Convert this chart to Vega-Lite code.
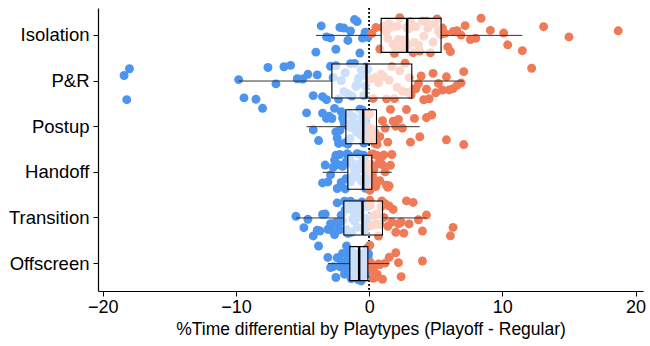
{
  "$schema": "https://vega.github.io/schema/vega-lite/v6.json",
  "width": 545,
  "height": 283,
  "autosize": {"type": "none"},
  "padding": {"left": 98, "top": 8, "right": 7, "bottom": 55},
  "background": "white",
  "config": {
    "view": {"stroke": null},
    "font": "Liberation Sans",
    "axis": {"grid": false, "domainColor": "black", "tickColor": "black", "labelColor": "black", "titleColor": "black", "labelFont": "Liberation Sans", "titleFont": "Liberation Sans", "titleFontWeight": "normal"}
  },
  "datasets": {
    "pts": [
      {"p":"Isolation","v":-4.0},{"p":"Isolation","v":-3.6},{"p":"Isolation","v":-3.2},{"p":"Isolation","v":-2.9},{"p":"Isolation","v":-2.5},{"p":"Isolation","v":-2.2},{"p":"Isolation","v":-1.9},{"p":"Isolation","v":-1.6},{"p":"Isolation","v":-1.4},{"p":"Isolation","v":-1.1},{"p":"Isolation","v":-0.9},{"p":"Isolation","v":-0.7},{"p":"Isolation","v":-0.5},{"p":"Isolation","v":-0.3},{"p":"Isolation","v":-0.1},{"p":"Isolation","v":0.2},{"p":"Isolation","v":0.5},{"p":"Isolation","v":0.8},
      {"p":"Isolation","v":1.0},{"p":"Isolation","v":1.1},{"p":"Isolation","v":1.3},{"p":"Isolation","v":1.4},{"p":"Isolation","v":1.5},{"p":"Isolation","v":1.7},{"p":"Isolation","v":1.8},{"p":"Isolation","v":1.9},{"p":"Isolation","v":2.0},{"p":"Isolation","v":2.1},{"p":"Isolation","v":2.2},{"p":"Isolation","v":2.3},{"p":"Isolation","v":2.4},{"p":"Isolation","v":2.5},{"p":"Isolation","v":2.6},{"p":"Isolation","v":2.7},{"p":"Isolation","v":2.75},{"p":"Isolation","v":2.8},
      {"p":"Isolation","v":2.9},{"p":"Isolation","v":3.0},{"p":"Isolation","v":3.1},{"p":"Isolation","v":3.3},{"p":"Isolation","v":3.4},{"p":"Isolation","v":3.5},{"p":"Isolation","v":3.7},{"p":"Isolation","v":3.8},{"p":"Isolation","v":4.0},{"p":"Isolation","v":4.1},{"p":"Isolation","v":4.3},{"p":"Isolation","v":4.4},{"p":"Isolation","v":4.6},{"p":"Isolation","v":4.8},{"p":"Isolation","v":4.9},{"p":"Isolation","v":5.1},{"p":"Isolation","v":5.2},{"p":"Isolation","v":5.35},
      {"p":"Isolation","v":5.5},{"p":"Isolation","v":5.7},{"p":"Isolation","v":5.9},{"p":"Isolation","v":6.1},{"p":"Isolation","v":6.3},{"p":"Isolation","v":6.6},{"p":"Isolation","v":6.9},{"p":"Isolation","v":7.2},{"p":"Isolation","v":7.6},{"p":"Isolation","v":8.0},{"p":"Isolation","v":8.4},{"p":"Isolation","v":9.1},{"p":"Isolation","v":10.1},{"p":"Isolation","v":10.4},{"p":"Isolation","v":11.5},{"p":"Isolation","v":13.1},{"p":"Isolation","v":15.0},{"p":"Isolation","v":18.7},

      {"p":"P&R","v":-18.4},{"p":"P&R","v":-18.2},{"p":"P&R","v":-18.0},{"p":"P&R","v":-9.8},{"p":"P&R","v":-9.4},{"p":"P&R","v":-8.5},{"p":"P&R","v":-7.6},{"p":"P&R","v":-7.0},{"p":"P&R","v":-6.4},{"p":"P&R","v":-5.9},{"p":"P&R","v":-5.4},{"p":"P&R","v":-5.0},{"p":"P&R","v":-4.6},{"p":"P&R","v":-4.2},{"p":"P&R","v":-3.9},{"p":"P&R","v":-3.5},{"p":"P&R","v":-3.2},{"p":"P&R","v":-2.9},
      {"p":"P&R","v":-2.7},{"p":"P&R","v":-2.5},{"p":"P&R","v":-2.3},{"p":"P&R","v":-2.1},{"p":"P&R","v":-1.9},{"p":"P&R","v":-1.8},{"p":"P&R","v":-1.6},{"p":"P&R","v":-1.4},{"p":"P&R","v":-1.3},{"p":"P&R","v":-1.1},{"p":"P&R","v":-1.0},{"p":"P&R","v":-0.9},{"p":"P&R","v":-0.8},{"p":"P&R","v":-0.6},{"p":"P&R","v":-0.5},{"p":"P&R","v":-0.4},{"p":"P&R","v":-0.3},{"p":"P&R","v":-0.25},
      {"p":"P&R","v":-0.1},{"p":"P&R","v":0.1},{"p":"P&R","v":0.3},{"p":"P&R","v":0.5},{"p":"P&R","v":0.7},{"p":"P&R","v":0.9},{"p":"P&R","v":1.1},{"p":"P&R","v":1.3},{"p":"P&R","v":1.5},{"p":"P&R","v":1.7},{"p":"P&R","v":1.9},{"p":"P&R","v":2.1},{"p":"P&R","v":2.3},{"p":"P&R","v":2.5},{"p":"P&R","v":2.7},{"p":"P&R","v":2.9},{"p":"P&R","v":3.0},{"p":"P&R","v":3.15},
      {"p":"P&R","v":3.3},{"p":"P&R","v":3.5},{"p":"P&R","v":3.7},{"p":"P&R","v":3.9},{"p":"P&R","v":4.1},{"p":"P&R","v":4.3},{"p":"P&R","v":4.5},{"p":"P&R","v":4.8},{"p":"P&R","v":5.0},{"p":"P&R","v":5.2},{"p":"P&R","v":5.5},{"p":"P&R","v":5.8},{"p":"P&R","v":6.0},{"p":"P&R","v":6.3},{"p":"P&R","v":6.6},{"p":"P&R","v":6.9},{"p":"P&R","v":7.1},{"p":"P&R","v":12.2},

      {"p":"Postup","v":-8.0},{"p":"Postup","v":-4.7},{"p":"Postup","v":-4.2},{"p":"Postup","v":-3.8},{"p":"Postup","v":-3.5},{"p":"Postup","v":-3.2},{"p":"Postup","v":-3.0},{"p":"Postup","v":-2.8},{"p":"Postup","v":-2.6},{"p":"Postup","v":-2.5},{"p":"Postup","v":-2.4},{"p":"Postup","v":-2.3},{"p":"Postup","v":-2.2},{"p":"Postup","v":-2.1},{"p":"Postup","v":-2.0},{"p":"Postup","v":-1.9},{"p":"Postup","v":-1.85},{"p":"Postup","v":-1.8},
      {"p":"Postup","v":-1.7},{"p":"Postup","v":-1.65},{"p":"Postup","v":-1.6},{"p":"Postup","v":-1.5},{"p":"Postup","v":-1.45},{"p":"Postup","v":-1.4},{"p":"Postup","v":-1.3},{"p":"Postup","v":-1.2},{"p":"Postup","v":-1.1},{"p":"Postup","v":-1.0},{"p":"Postup","v":-0.95},{"p":"Postup","v":-0.9},{"p":"Postup","v":-0.8},{"p":"Postup","v":-0.7},{"p":"Postup","v":-0.65},{"p":"Postup","v":-0.6},{"p":"Postup","v":-0.55},{"p":"Postup","v":-0.5},
      {"p":"Postup","v":-0.4},{"p":"Postup","v":-0.35},{"p":"Postup","v":-0.3},{"p":"Postup","v":-0.25},{"p":"Postup","v":-0.2},{"p":"Postup","v":-0.15},{"p":"Postup","v":-0.1},{"p":"Postup","v":-0.05},{"p":"Postup","v":0.02},{"p":"Postup","v":0.05},{"p":"Postup","v":0.1},{"p":"Postup","v":0.15},{"p":"Postup","v":0.2},{"p":"Postup","v":0.25},{"p":"Postup","v":0.3},{"p":"Postup","v":0.4},{"p":"Postup","v":0.45},{"p":"Postup","v":0.5},
      {"p":"Postup","v":0.6},{"p":"Postup","v":0.8},{"p":"Postup","v":1.0},{"p":"Postup","v":1.2},{"p":"Postup","v":1.4},{"p":"Postup","v":1.6},{"p":"Postup","v":1.8},{"p":"Postup","v":2.0},{"p":"Postup","v":2.2},{"p":"Postup","v":2.5},{"p":"Postup","v":2.8},{"p":"Postup","v":3.1},{"p":"Postup","v":3.4},{"p":"Postup","v":3.8},{"p":"Postup","v":4.3},{"p":"Postup","v":4.7},{"p":"Postup","v":5.8},{"p":"Postup","v":7.1},

      {"p":"Handoff","v":-3.5},{"p":"Handoff","v":-3.3},{"p":"Handoff","v":-3.1},{"p":"Handoff","v":-2.9},{"p":"Handoff","v":-2.7},{"p":"Handoff","v":-2.6},{"p":"Handoff","v":-2.5},{"p":"Handoff","v":-2.4},{"p":"Handoff","v":-2.3},{"p":"Handoff","v":-2.2},{"p":"Handoff","v":-2.1},{"p":"Handoff","v":-2.0},{"p":"Handoff","v":-1.95},{"p":"Handoff","v":-1.9},{"p":"Handoff","v":-1.8},{"p":"Handoff","v":-1.75},{"p":"Handoff","v":-1.7},{"p":"Handoff","v":-1.65},
      {"p":"Handoff","v":-1.55},{"p":"Handoff","v":-1.5},{"p":"Handoff","v":-1.45},{"p":"Handoff","v":-1.4},{"p":"Handoff","v":-1.3},{"p":"Handoff","v":-1.25},{"p":"Handoff","v":-1.2},{"p":"Handoff","v":-1.1},{"p":"Handoff","v":-1.05},{"p":"Handoff","v":-1.0},{"p":"Handoff","v":-0.9},{"p":"Handoff","v":-0.85},{"p":"Handoff","v":-0.8},{"p":"Handoff","v":-0.7},{"p":"Handoff","v":-0.65},{"p":"Handoff","v":-0.6},{"p":"Handoff","v":-0.55},{"p":"Handoff","v":-0.5},
      {"p":"Handoff","v":-0.42},{"p":"Handoff","v":-0.4},{"p":"Handoff","v":-0.38},{"p":"Handoff","v":-0.35},{"p":"Handoff","v":-0.3},{"p":"Handoff","v":-0.28},{"p":"Handoff","v":-0.25},{"p":"Handoff","v":-0.2},{"p":"Handoff","v":-0.18},{"p":"Handoff","v":-0.15},{"p":"Handoff","v":-0.1},{"p":"Handoff","v":-0.08},{"p":"Handoff","v":-0.05},{"p":"Handoff","v":0.02},{"p":"Handoff","v":0.05},{"p":"Handoff","v":0.1},{"p":"Handoff","v":0.15},{"p":"Handoff","v":0.18},
      {"p":"Handoff","v":0.25},{"p":"Handoff","v":0.3},{"p":"Handoff","v":0.35},{"p":"Handoff","v":0.4},{"p":"Handoff","v":0.45},{"p":"Handoff","v":0.5},{"p":"Handoff","v":0.6},{"p":"Handoff","v":0.7},{"p":"Handoff","v":0.8},{"p":"Handoff","v":0.9},{"p":"Handoff","v":1.0},{"p":"Handoff","v":1.1},{"p":"Handoff","v":1.2},{"p":"Handoff","v":1.3},{"p":"Handoff","v":1.4},{"p":"Handoff","v":1.5},{"p":"Handoff","v":1.6},{"p":"Handoff","v":1.7},

      {"p":"Transition","v":-5.5},{"p":"Transition","v":-4.9},{"p":"Transition","v":-4.6},{"p":"Transition","v":-4.2},{"p":"Transition","v":-3.9},{"p":"Transition","v":-3.7},{"p":"Transition","v":-3.5},{"p":"Transition","v":-3.3},{"p":"Transition","v":-3.1},{"p":"Transition","v":-2.9},{"p":"Transition","v":-2.8},{"p":"Transition","v":-2.6},{"p":"Transition","v":-2.5},{"p":"Transition","v":-2.4},{"p":"Transition","v":-2.3},{"p":"Transition","v":-2.2},{"p":"Transition","v":-2.1},{"p":"Transition","v":-2.0},
      {"p":"Transition","v":-1.85},{"p":"Transition","v":-1.8},{"p":"Transition","v":-1.7},{"p":"Transition","v":-1.6},{"p":"Transition","v":-1.55},{"p":"Transition","v":-1.5},{"p":"Transition","v":-1.4},{"p":"Transition","v":-1.3},{"p":"Transition","v":-1.25},{"p":"Transition","v":-1.2},{"p":"Transition","v":-1.1},{"p":"Transition","v":-1.0},{"p":"Transition","v":-0.95},{"p":"Transition","v":-0.9},{"p":"Transition","v":-0.8},{"p":"Transition","v":-0.7},{"p":"Transition","v":-0.65},{"p":"Transition","v":-0.55},
      {"p":"Transition","v":-0.45},{"p":"Transition","v":-0.4},{"p":"Transition","v":-0.35},{"p":"Transition","v":-0.3},{"p":"Transition","v":-0.2},{"p":"Transition","v":-0.15},{"p":"Transition","v":-0.1},{"p":"Transition","v":0.05},{"p":"Transition","v":0.1},{"p":"Transition","v":0.2},{"p":"Transition","v":0.3},{"p":"Transition","v":0.4},{"p":"Transition","v":0.5},{"p":"Transition","v":0.6},{"p":"Transition","v":0.7},{"p":"Transition","v":0.8},{"p":"Transition","v":0.9},{"p":"Transition","v":0.95},
      {"p":"Transition","v":1.1},{"p":"Transition","v":1.2},{"p":"Transition","v":1.4},{"p":"Transition","v":1.5},{"p":"Transition","v":1.7},{"p":"Transition","v":1.8},{"p":"Transition","v":2.0},{"p":"Transition","v":2.2},{"p":"Transition","v":2.4},{"p":"Transition","v":2.6},{"p":"Transition","v":2.8},{"p":"Transition","v":3.0},{"p":"Transition","v":3.3},{"p":"Transition","v":3.7},{"p":"Transition","v":4.0},{"p":"Transition","v":4.3},{"p":"Transition","v":6.1},{"p":"Transition","v":6.3},

      {"p":"Offscreen","v":-3.8},{"p":"Offscreen","v":-3.1},{"p":"Offscreen","v":-2.9},{"p":"Offscreen","v":-2.7},{"p":"Offscreen","v":-2.5},{"p":"Offscreen","v":-2.4},{"p":"Offscreen","v":-2.3},{"p":"Offscreen","v":-2.2},{"p":"Offscreen","v":-2.1},{"p":"Offscreen","v":-2.0},{"p":"Offscreen","v":-1.9},{"p":"Offscreen","v":-1.85},{"p":"Offscreen","v":-1.8},{"p":"Offscreen","v":-1.7},{"p":"Offscreen","v":-1.65},{"p":"Offscreen","v":-1.6},{"p":"Offscreen","v":-1.55},{"p":"Offscreen","v":-1.5},
      {"p":"Offscreen","v":-1.42},{"p":"Offscreen","v":-1.4},{"p":"Offscreen","v":-1.35},{"p":"Offscreen","v":-1.3},{"p":"Offscreen","v":-1.25},{"p":"Offscreen","v":-1.2},{"p":"Offscreen","v":-1.15},{"p":"Offscreen","v":-1.1},{"p":"Offscreen","v":-1.05},{"p":"Offscreen","v":-1.0},{"p":"Offscreen","v":-0.98},{"p":"Offscreen","v":-0.95},{"p":"Offscreen","v":-0.9},{"p":"Offscreen","v":-0.88},{"p":"Offscreen","v":-0.85},{"p":"Offscreen","v":-0.82},{"p":"Offscreen","v":-0.8},{"p":"Offscreen","v":-0.78},
      {"p":"Offscreen","v":-0.72},{"p":"Offscreen","v":-0.7},{"p":"Offscreen","v":-0.65},{"p":"Offscreen","v":-0.6},{"p":"Offscreen","v":-0.55},{"p":"Offscreen","v":-0.5},{"p":"Offscreen","v":-0.45},{"p":"Offscreen","v":-0.42},{"p":"Offscreen","v":-0.4},{"p":"Offscreen","v":-0.35},{"p":"Offscreen","v":-0.3},{"p":"Offscreen","v":-0.28},{"p":"Offscreen","v":-0.25},{"p":"Offscreen","v":-0.2},{"p":"Offscreen","v":-0.18},{"p":"Offscreen","v":-0.15},{"p":"Offscreen","v":-0.12},{"p":"Offscreen","v":-0.11},
      {"p":"Offscreen","v":-0.08},{"p":"Offscreen","v":-0.05},{"p":"Offscreen","v":0.05},{"p":"Offscreen","v":0.1},{"p":"Offscreen","v":0.2},{"p":"Offscreen","v":0.3},{"p":"Offscreen","v":0.4},{"p":"Offscreen","v":0.5},{"p":"Offscreen","v":0.6},{"p":"Offscreen","v":0.7},{"p":"Offscreen","v":0.8},{"p":"Offscreen","v":1.0},{"p":"Offscreen","v":1.2},{"p":"Offscreen","v":1.5},{"p":"Offscreen","v":2.0},{"p":"Offscreen","v":2.2},{"p":"Offscreen","v":2.4},{"p":"Offscreen","v":4.0}
    ],
    "box": [
      {"p":"Isolation","lo":-4.0,"q1":0.9,"med":2.85,"q3":5.4,"hi":11.5},
      {"p":"P&R","lo":-9.8,"q1":-2.8,"med":-0.2,"q3":3.2,"hi":7.1},
      {"p":"Postup","lo":-4.7,"q1":-1.75,"med":-0.45,"q3":0.55,"hi":3.8},
      {"p":"Handoff","lo":-3.5,"q1":-1.6,"med":-0.45,"q3":0.2,"hi":1.7},
      {"p":"Transition","lo":-5.5,"q1":-1.9,"med":-0.5,"q3":1.0,"hi":4.3},
      {"p":"Offscreen","lo":-3.1,"q1":-1.45,"med":-0.75,"q3":-0.1,"hi":1.5}
    ]
  },
  "encoding": {
    "y": {
      "field": "p", "type": "nominal",
      "sort": ["Isolation","P&R","Postup","Handoff","Transition","Offscreen"],
      "scale": {"type": "band", "paddingInner": 0, "paddingOuter": 0.1},
      "axis": {"title": null, "labelFontSize": 18.5, "tickSize": 5, "labelPadding": 4, "domainWidth": 1.2}
    }
  },
  "layer": [
    {
      "data": {"name": "box"},
      "mark": {"type": "rule", "color": "black", "strokeDash": [1.5, 2.5], "strokeWidth": 1},
      "encoding": {"x": {"datum": 0, "type": "quantitative"}, "y": null}
    },
    {
      "data": {"name": "pts"},
      "transform": [
        {"window": [{"op": "row_number", "as": "i"}], "groupby": ["p"]},
        {"calculate": "((abs(sin(datum.i*12.9898+datum.v*78.233)*43758.5453))%1-0.5)*0.82", "as": "jit"}
      ],
      "mark": {"type": "circle", "size": 80, "opacity": 1},
      "encoding": {
        "x": {
          "field": "v", "type": "quantitative",
          "scale": {"domain": [-20.36, 20.56], "nice": false, "zero": false},
          "axis": {"values": [-20, -10, 0, 10, 20], "title": "%Time differential by Playtypes (Playoff - Regular)", "labelFontSize": 18, "titleFontSize": 17.5, "tickSize": 5, "labelPadding": 2, "titlePadding": 4, "domainWidth": 1.2}
        },
        "yOffset": {"field": "jit", "type": "quantitative", "scale": {"domain": [-0.5, 0.5]}},
        "color": {"condition": {"test": "datum.v < 0", "value": "#4D94EE"}, "value": "#F07A56"}
      }
    },
    {
      "data": {"name": "box"},
      "mark": {"type": "rule", "color": "#333333", "strokeWidth": 1},
      "encoding": {"x": {"field": "lo", "type": "quantitative"}, "x2": {"field": "q1"}}
    },
    {
      "data": {"name": "box"},
      "mark": {"type": "rule", "color": "#333333", "strokeWidth": 1},
      "encoding": {"x": {"field": "q3", "type": "quantitative"}, "x2": {"field": "hi"}}
    },
    {
      "data": {"name": "box"},
      "mark": {"type": "bar", "height": 34, "fill": "white", "fillOpacity": 0.7, "stroke": "black", "strokeWidth": 1.1},
      "encoding": {"x": {"field": "q1", "type": "quantitative"}, "x2": {"field": "q3"}}
    },
    {
      "data": {"name": "box"},
      "mark": {"type": "tick", "orient": "vertical", "size": 34, "thickness": 2.5, "color": "black", "opacity": 1},
      "encoding": {"x": {"field": "med", "type": "quantitative"}}
    }
  ]
}
